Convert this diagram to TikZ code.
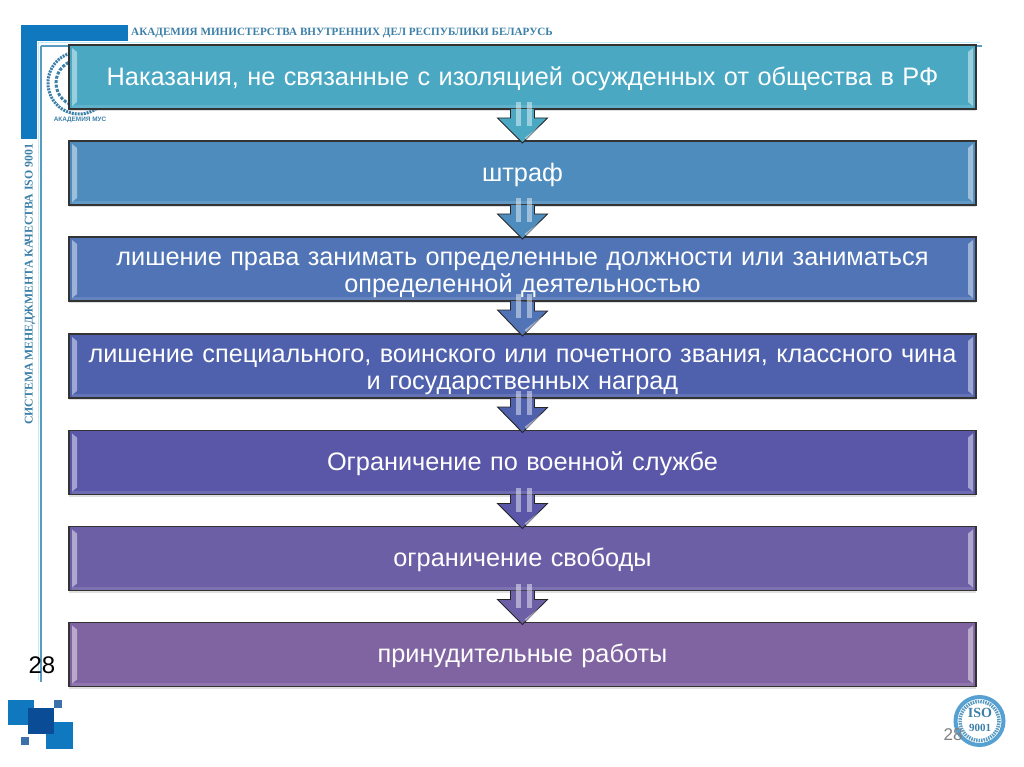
\documentclass[tikz,border=0pt]{standalone}
\usepackage{fontspec}
\setmainfont{Liberation Sans}
\newfontfamily\headfont{Liberation Serif}
\usetikzlibrary{shadows,calc}
\definecolor{colA}{HTML}{4AA8C3}
\definecolor{colB}{HTML}{4E8CBD}
\definecolor{colC}{HTML}{5074B5}
\definecolor{colD}{HTML}{4F60AC}
\definecolor{colE}{HTML}{5A57A8}
\definecolor{colF}{HTML}{6C5FA6}
\definecolor{colG}{HTML}{8064A2}
\definecolor{logoblue}{HTML}{0F78BE}
\definecolor{logodark}{HTML}{0B4C96}
\definecolor{linkblue}{HTML}{5A9CC0}
\definecolor{headblue}{HTML}{3C7FA8}
\tikzset{
  stagebox/.style={draw=black!80,line width=1.1pt,minimum width=907pt,minimum height=64pt,
    inner sep=0pt,outer sep=0pt,text=white,align=center,text width=900pt,
    font=\fontsize{25.3}{27}\selectfont,execute at begin node={\rule{0pt}{22pt}},
    drop shadow={shadow xshift=0pt,shadow yshift=-2pt,opacity=0.25}},
  tworows/.style={execute at begin node={\rule{0pt}{25pt}}},
  downarrow/.style={draw=black!85,line width=0.9pt,line join=miter},
  bevel/.style={fill=white,fill opacity=0.45,draw=none},
  headtext/.style={text=headblue,inner sep=0pt,font=\headfont\bfseries}
}
\begin{document}
\begin{tikzpicture}[x=1pt,y=-1pt]
  \useasboundingbox (0,0) rectangle (1024,767);
  % frame of the slide
  \fill[logoblue] (21,25) rectangle (128,41);
  \fill[logoblue] (21,41) rectangle (37,139);
  \draw[cyan!25,line width=1.5pt] (38.5,42.5) -- (38.5,680);
  \draw[cyan!25,line width=1.5pt] (38.5,42.5) -- (980,42.5);
  \draw[linkblue,line width=2pt] (41,46) -- (41,682);
  \draw[linkblue,line width=1.5pt] (41,46) -- (982,46);
  \node[headtext,anchor=west,font=\headfont\bfseries\fontsize{11.15}{12}\selectfont] (academy) at (131,33)
    {АКАДЕМИЯ МИНИСТЕРСТВА ВНУТРЕННИХ ДЕЛ РЕСПУБЛИКИ БЕЛАРУСЬ};
  \node[headtext,rotate=90,anchor=west,font=\headfont\bfseries\fontsize{11.8}{12}\selectfont] (quality) at (30,425)
    {СИСТЕМА МЕНЕДЖМЕНТА КАЧЕСТВА ISO 9001};
  % emblem behind the first box
  \draw[headblue,line width=3pt,dash pattern=on 2pt off 1pt] (79,83) circle (31);
  \draw[headblue,line width=3pt,dash pattern=on 3pt off 1.5pt] (79,83) circle (23);
  \node[headtext,font=\bfseries\fontsize{6.4}{7}\selectfont] (emblem) at (80,120) {АКАДЕМИЯ МУС};
  % stages
  \node[stagebox,fill=colA] (b1) at (522.5,77) {Наказания, не связанные с изоляцией осужденных от общества в РФ};
  \node[stagebox,fill=colB] (b2) at (522.5,173) {штраф};
  \node[stagebox,tworows,fill=colC] (b3) at (522.5,269) {лишение права занимать определенные должности или заниматься\\определенной деятельностью};
  \node[stagebox,tworows,fill=colD] (b4) at (522.5,366) {лишение специального, воинского или почетного звания, классного чина\\и государственных наград};
  \node[stagebox,fill=colE] (b5) at (522.5,462.5) {Ограничение по военной службе};
  \node[stagebox,fill=colF] (b6) at (522.5,558.5) {ограничение свободы};
  \node[stagebox,fill=colG] (b7) at (522.5,654.5) {принудительные работы};
  \foreach \b in {b1,b2,b3,b4,b5,b6,b7} {
    \fill[bevel] (\b.north west) ++(3,3) -- ++(5,4) -- ++(0,50) -- ++(-5,4) -- cycle;
    \fill[bevel] (\b.north east) ++(-3,3) -- ++(-5,4) -- ++(0,50) -- ++(5,4) -- cycle;
    \fill[white,opacity=0.12] ($(\b.south west)+(3,-4)$) rectangle ($(\b.south east)+(-3,-1)$);
  }
  % arrows between the stages
  \foreach \a/\b/\c in {b1/b2/colA,b2/b3/colB,b3/b4/colC,b4/b5/colD,b5/b6/colE,b6/b7/colF} {
    \draw[downarrow,fill=\c] (\a.south) ++(-12,0) -- ++(0,9) -- ++(-13,0)
      -- ($(\b.north)+(0,2)$) -- ++(25,-25) -- ++(-13,0) -- ++(0,-9);
    \fill[bevel] (\a.south) ++(-7,-7) rectangle ++(5,24);
    \fill[bevel] (\a.south) ++(4,-7) rectangle ++(5,24);
    \fill[bevel] (\a.south) ++(2,29) -- ++(17,-13) -- ++(3,0) -- ++(-18,15) -- cycle;
  }
  % corner squares
  \fill[logoblue] (8,700) rectangle (34,725);
  \fill[logoblue] (46,722) rectangle (73,749);
  \fill[logodark] (28,708) rectangle (54,734);
  \fill[logodark!80] (54,700) rectangle (62,708);
  \fill[logodark!80] (21,737) rectangle (29,745);
  % stamp
  \draw[logoblue!70,line width=4pt] (979.5,721) circle (24);
  \draw[linkblue,line width=3.5pt,dash pattern=on 1.5pt off 1pt] (979.5,721) circle (19.5);
  \node[headtext,align=center,text=headblue,font=\headfont\bfseries\fontsize{14}{15}\selectfont] (iso) at (980,720) {ISO\\[-1pt]\fontsize{11}{12}\selectfont 9001};
  % page numbers
  \node[inner sep=0pt,font=\fontsize{24}{26}\selectfont] (numleft) at (42,665) {28};
  \node[inner sep=0pt,text=black!50,font=\fontsize{17}{19}\selectfont] (numright) at (953,735) {28};
\end{tikzpicture}
\end{document}
